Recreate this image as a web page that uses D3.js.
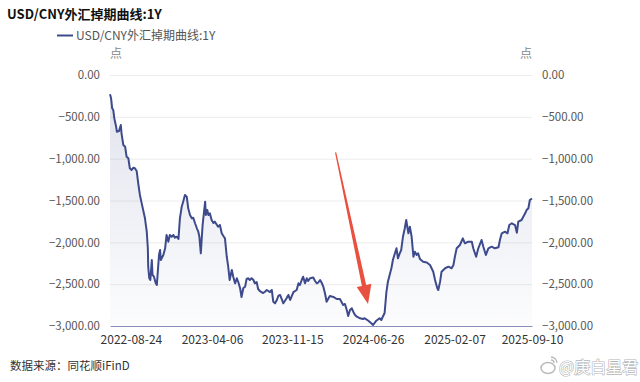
<!DOCTYPE html>
<html><head><meta charset="utf-8">
<script src="https://cdn.jsdelivr.net/npm/d3@7"></script>
<style>
html,body{margin:0;padding:0;background:#fff;}
svg{display:block;font-family:"Microsoft YaHei","Noto Sans CJK SC","Noto Sans",sans-serif;}
</style></head>
<body>
<svg id="c" width="640" height="382"></svg>
<script>
const title = "USD/CNY外汇掉期曲线:1Y";
const seriesName = "USD/CNY外汇掉期曲线:1Y";
const unitLabel = "点";
const sourceText = "数据来源：同花顺iFinD";
const watermark = "@庚白星君";
const xTickLabels = ["2022-08-24","2023-04-06","2023-11-15","2024-06-26","2025-02-07","2025-09-10"];
const yTicks = [0,-500,-1000,-1500,-2000,-2500,-3000];
const dates = [
"2022-06-27","2022-06-30","2022-07-03","2022-07-06","2022-07-09","2022-07-14","2022-07-16","2022-07-22","2022-07-27","2022-07-29",
"2022-08-03","2022-08-08","2022-08-12","2022-08-17","2022-08-21","2022-08-26","2022-08-31","2022-09-04","2022-09-09","2022-09-14",
"2022-09-18","2022-09-23","2022-09-27","2022-10-02","2022-10-07","2022-10-10","2022-10-11","2022-10-14","2022-10-17","2022-10-21",
"2022-10-23","2022-10-27","2022-11-01","2022-11-04","2022-11-06","2022-11-10","2022-11-13","2022-11-15","2022-11-22","2022-11-27",
"2022-12-01","2022-12-06","2022-12-10","2022-12-15","2022-12-20","2022-12-24","2022-12-29","2023-01-03","2023-01-07","2023-01-12",
"2023-01-16","2023-01-21","2023-01-26","2023-01-30","2023-02-04","2023-02-09","2023-02-13","2023-02-18","2023-02-23","2023-02-27",
"2023-03-02","2023-03-06","2023-03-08","2023-03-11","2023-03-15","2023-03-18","2023-03-20","2023-03-24","2023-03-27","2023-03-31",
"2023-04-05","2023-04-10","2023-04-14","2023-04-23","2023-04-28","2023-05-03","2023-05-09","2023-05-12","2023-05-17","2023-05-21",
"2023-05-25","2023-05-31","2023-06-04","2023-06-09","2023-06-14","2023-06-18","2023-06-23","2023-06-27","2023-07-02","2023-07-07",
"2023-07-11","2023-07-16","2023-07-20","2023-07-25","2023-07-30","2023-08-03","2023-08-08","2023-08-12","2023-08-17","2023-08-26",
"2023-08-31","2023-09-05","2023-09-14","2023-09-19","2023-09-23","2023-09-28","2023-10-03","2023-10-07","2023-10-12","2023-10-21",
"2023-10-30","2023-11-04","2023-11-09","2023-11-18","2023-11-27","2023-12-02","2023-12-06","2023-12-11","2023-12-15","2023-12-20",
"2023-12-25","2023-12-29","2024-01-03","2024-01-12","2024-01-17","2024-01-22","2024-01-26","2024-01-31","2024-02-04","2024-02-09",
"2024-02-14","2024-02-18","2024-02-27","2024-03-08","2024-03-17","2024-03-26","2024-04-04","2024-04-09","2024-04-14","2024-04-18",
"2024-04-23","2024-04-28","2024-05-02","2024-05-07","2024-05-12","2024-05-21","2024-05-29","2024-06-03","2024-06-12","2024-06-21",
"2024-06-26","2024-07-05","2024-07-14","2024-07-19","2024-07-23","2024-07-28","2024-08-02","2024-08-06","2024-08-11","2024-08-16",
"2024-08-20","2024-08-25","2024-08-30","2024-09-03","2024-09-08","2024-09-12","2024-09-17","2024-09-22","2024-09-26","2024-10-02",
"2024-10-06","2024-10-11","2024-10-16","2024-10-20","2024-10-25","2024-10-29","2024-11-03","2024-11-12","2024-11-22","2024-12-01",
"2024-12-10","2024-12-15","2024-12-21","2024-12-24","2024-12-29","2025-01-02","2025-01-12","2025-01-21","2025-01-30","2025-02-04",
"2025-02-08","2025-02-13","2025-02-22","2025-03-02","2025-03-08","2025-03-17","2025-03-27","2025-03-31","2025-04-08","2025-04-14",
"2025-04-23","2025-04-28","2025-05-05","2025-05-12","2025-05-21","2025-05-30","2025-06-09","2025-06-13","2025-06-18","2025-06-27",
"2025-07-04","2025-07-09","2025-07-16","2025-07-25","2025-07-30","2025-08-03","2025-08-12","2025-08-22","2025-08-26","2025-08-31",
"2025-09-04","2025-09-10"];
const values = [
-231,-278,-398,-418,-518,-618,-678,-669,-598,-697,
-837,-857,-976,-996,-1115,-1135,-1108,-1115,-1147,-1315,
-1434,-1534,-1614,-1713,-1873,-2071,-2291,-2430,-2450,-2211,
-2390,-2411,-2490,-2510,-2390,-2151,-2092,-2211,-2151,-2071,
-1912,-1992,-1912,-1933,-1912,-1945,-1933,-1960,-1713,-1574,
-1514,-1434,-1455,-1593,-1673,-1713,-1706,-1772,-1832,-1873,
-1933,-2131,-1992,-1793,-1634,-1514,-1673,-1614,-1673,-1653,
-1733,-1769,-1753,-1813,-1793,-1892,-1933,-1952,-2172,-2291,
-2450,-2331,-2411,-2490,-2430,-2474,-2549,-2653,-2546,-2530,
-2438,-2430,-2450,-2430,-2450,-2490,-2474,-2558,-2582,-2606,
-2590,-2570,-2594,-2570,-2710,-2729,-2689,-2641,-2629,-2729,
-2669,-2629,-2689,-2594,-2570,-2490,-2510,-2450,-2411,-2490,
-2430,-2462,-2430,-2420,-2462,-2490,-2480,-2450,-2480,-2530,
-2618,-2710,-2641,-2653,-2677,-2677,-2749,-2737,-2809,-2880,
-2809,-2788,-2829,-2868,-2889,-2908,-2916,-2908,-2934,-2968,
-2988,-2937,-2908,-2928,-2889,-2845,-2594,-2474,-2390,-2307,
-2211,-2139,-2071,-2191,-2131,-2092,-1933,-1832,-1733,-1892,
-1813,-1933,-2172,-2112,-2151,-2131,-2199,-2231,-2241,-2271,
-2351,-2450,-2546,-2570,-2470,-2351,-2310,-2291,-2310,-2271,
-2172,-2071,-2032,-1952,-2012,-1992,-1992,-2071,-2172,-2071,
-1972,-2052,-2151,-2071,-2052,-2071,-2059,-1972,-1892,-1873,
-1892,-1793,-1772,-1793,-1885,-1753,-1733,-1653,-1614,-1593,
-1494,-1476];
// annotation arrow (data space): start and tip
const arrowDates = ["2024-03-14","2024-06-12"];
const arrowValues = [-926,-2737];

const parse = d3.timeParse("%Y-%m-%d");
const fmtDate = d3.timeFormat("%Y-%m-%d");
const data = dates.map((d,i)=>({date:parse(d), value:values[i]}));

const svg = d3.select("#c");
const mLeft = 110, mRight = 532, mTop = 75, mBottom = 326;

const x = d3.scaleTime().domain([parse(dates[0]), parse(dates[dates.length-1])]).range([mLeft, mRight]);
const y = d3.scaleLinear().domain([-3000, 0]).range([mBottom, mTop]);
const yFmt = d3.format(",.2f");

// gradient
const defs = svg.append("defs");
const grad = defs.append("linearGradient").attr("id","ag").attr("gradientUnits","userSpaceOnUse")
  .attr("x1",0).attr("x2",0).attr("y1",mTop).attr("y2",mBottom);
grad.append("stop").attr("offset","0%").attr("stop-color","#3c4b8c").attr("stop-opacity",0.16);
grad.append("stop").attr("offset","100%").attr("stop-color","#3c4b8c").attr("stop-opacity",0.015);

// gridlines
svg.append("g").selectAll("line").data(yTicks.filter(v=>v!==-3000)).join("line")
  .attr("x1",mLeft).attr("x2",mRight).attr("y1",d=>y(d)+0.5).attr("y2",d=>y(d)+0.5)
  .attr("stroke","#ececec").attr("stroke-width",1);

// left axis
const la = svg.append("g").attr("transform",`translate(${mLeft},0)`)
  .call(d3.axisLeft(y).tickValues(yTicks).tickFormat(yFmt).tickSize(0).tickPadding(10));
la.select(".domain").remove();
la.selectAll("text").attr("fill","#555").attr("font-size","11.5px").attr("font-family","'Microsoft YaHei','Noto Sans CJK SC',sans-serif");

// right axis
const ra = svg.append("g").attr("transform",`translate(${mRight},0)`)
  .call(d3.axisRight(y).tickValues(yTicks).tickFormat(yFmt).tickSize(0).tickPadding(10));
ra.select(".domain").remove();
ra.selectAll("text").attr("fill","#555").attr("font-size","11.5px").attr("font-family","'Microsoft YaHei','Noto Sans CJK SC',sans-serif");

// area
const area = d3.area().x(d=>x(d.date)).y0(y(-3000)).y1(d=>y(d.value));
svg.append("path").datum(data).attr("d",area).attr("fill","url(#ag)");

// bottom axis
const ba = svg.append("g").attr("transform",`translate(0,${mBottom})`)
  .call(d3.axisBottom(x).tickValues(xTickLabels.map(parse)).tickFormat(fmtDate).tickSize(0).tickPadding(9));
ba.select(".domain").attr("stroke","#8a90bd").attr("stroke-width",1.2);
ba.selectAll("text").attr("fill","#333").attr("font-size","12px").attr("font-family","'Microsoft YaHei','Noto Sans CJK SC',sans-serif");

// line
const line = d3.line().x(d=>x(d.date)).y(d=>y(d.value));
svg.append("path").datum(data).attr("d",line).attr("fill","none")
  .attr("stroke","#3d4a8c").attr("stroke-width",2).attr("stroke-linejoin","round");

// unit labels
svg.append("text").attr("x",mLeft+6).attr("y",58).attr("text-anchor","middle")
  .attr("fill","#888").attr("font-size","12px").text(unitLabel);
svg.append("text").attr("x",mRight-6).attr("y",58).attr("text-anchor","middle")
  .attr("fill","#888").attr("font-size","12px").text(unitLabel);

// title
svg.append("text").attr("x",7).attr("y",19).attr("font-size","13px").attr("font-weight","bold")
  .attr("fill","#111").text(title);

// legend
svg.append("line").attr("x1",57).attr("x2",73).attr("y1",35.5).attr("y2",35.5)
  .attr("stroke","#3d4a8c").attr("stroke-width",2);
svg.append("text").attr("x",76).attr("y",40).attr("font-size","12px").attr("fill","#555").text(seriesName);

// source
svg.append("text").attr("x",10).attr("y",370).attr("font-size","11.5px").attr("fill","#333").text(sourceText);

// arrow annotation
(function(){
  const sx = x(parse(arrowDates[0])), sy = y(arrowValues[0]);
  const tx = x(parse(arrowDates[1])), ty = y(arrowValues[1]);
  const dx = tx-sx, dy = ty-sy, L = Math.hypot(dx,dy);
  const ux = dx/L, uy = dy/L, px = -uy, py = ux;
  const headLen = 19, headHalf = 7.5, w0 = 0.6, w1 = 2.2;
  const bx = tx-ux*headLen, by = ty-uy*headLen;
  const pts = [
    [sx+px*w0, sy+py*w0],[bx+px*w1, by+py*w1],[bx+px*headHalf, by+py*headHalf],[tx,ty],
    [bx-px*headHalf, by-py*headHalf],[bx-px*w1, by-py*w1],[sx-px*w0, sy-py*w0]];
  svg.append("path").attr("d","M"+pts.map(p=>p.join(",")).join("L")+"Z").attr("fill","#e8503f");
})();

// watermark
const wm = svg.append("g");
wm.append("ellipse").attr("cx",548).attr("cy",368).attr("rx",7).attr("ry",5.5)
  .attr("fill","none").attr("stroke","#bbb").attr("stroke-width",1.5);
wm.append("path").attr("d","M551,357 a6,6 0 0 1 6,6 M551,360 a3,3 0 0 1 3,3").attr("fill","none").attr("stroke","#bbb").attr("stroke-width",1.3);
wm.append("text").attr("x",559).attr("y",373).attr("font-size","16px").attr("fill","#fff")
  .attr("stroke","#b5b5b5").attr("stroke-width",1.2).attr("paint-order","stroke").attr("font-family","'Noto Sans CJK SC',sans-serif").text(watermark);
</script>
</body></html>
